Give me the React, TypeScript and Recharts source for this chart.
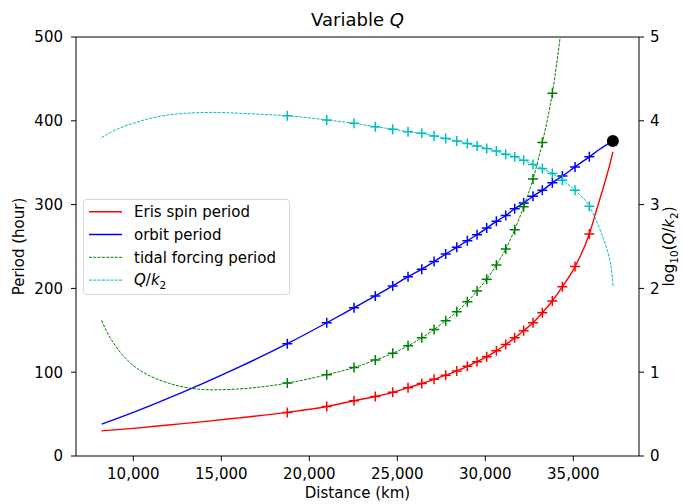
import React from 'react';
import { ComposedChart, Line, Scatter, XAxis, YAxis, ReferenceLine, Legend } from 'recharts';

// Distances (km) where the "+" markers sit
const markerDistance = [18750, 20990, 22540, 23750, 24740, 25610, 26390, 27090, 27750, 28380, 28980, 29530, 30080, 30630, 31160, 31670, 32180, 32710, 33240, 33810, 34380, 35100, 35910];

// Eris spin period (hour) at markers
const spinAtMarkers = [52, 59, 66, 71, 76, 81.5, 86.5, 91.5, 96.5, 101.5, 107, 112.5, 118.5, 125.5, 133, 141, 149.5, 159, 171, 185, 202, 226, 265];
// Orbit period (hour) at markers
const orbitAtMarkers = [134, 159, 177, 191, 203, 214, 223, 232, 241, 249, 257, 264, 272, 280, 287, 295, 302, 310, 317, 326, 334, 345, 357];
// Tidal forcing period (hour) at the first 20 markers
const tidalAtMarkers = [87, 97, 105.5, 114.5, 122.5, 131.5, 141, 151, 161.5, 172, 184, 197, 211, 228, 247, 270, 297.5, 330.5, 374, 433];
// log10(Q/k2) at markers
const logQk2AtMarkers = [4.06, 4.01, 3.97, 3.93, 3.9, 3.87, 3.85, 3.82, 3.79, 3.76, 3.73, 3.7, 3.67, 3.64, 3.6, 3.57, 3.53, 3.48, 3.43, 3.37, 3.29, 3.17, 2.98];

const spinLead = [[8200, 30], [10000, 33], [12000, 37], [14000, 41], [16000, 45.5]];
const spinTail = [[36300, 292], [36700, 320], [37000, 342], [37250, 363]];
const orbitLead = [[8200, 38], [10000, 52], [12000, 69], [14000, 87], [16000, 106]];
const orbitTail = [[36500, 366], [37250, 376]];
const tidalLead = [[8200, 162], [8500, 148], [8900, 134], [9500, 118], [10000, 108], [11000, 95], [12000, 87], [13200, 81], [14500, 79], [16000, 80], [17500, 83]];
const tidalTail = [[34300, 507]];
const qLead = [[8200, 3.8], [8700, 3.86], [9300, 3.92], [10000, 3.97], [11000, 4.03], [12000, 4.07], [13000, 4.09], [14500, 4.1], [16000, 4.09], [17500, 4.075]];
const qTail = [[36200, 2.86], [36500, 2.71], [36800, 2.54], [37000, 2.4], [37150, 2.25], [37270, 2.02]];

// Final orbit position (black dot)
const finalOrbit = [[37250, 376]];

const xTicks = [10000, 15000, 20000, 25000, 30000, 35000];
const leftTicks = [0, 100, 200, 300, 400, 500];
const rightTicks = [0, 1, 2, 3, 4, 5];

type Pt = { d: number; v: number };
const toPts = (arr: number[][]): Pt[] => arr.map(([d, v]) => ({ d, v }));
const markerPts = (vals: number[]): Pt[] => vals.map((v, i) => ({ d: markerDistance[i], v }));
const build = (lead: number[][], vals: number[], tail: number[][]): Pt[] =>
  [...toPts(lead), ...markerPts(vals), ...toPts(tail)].sort((a, b) => a.d - b.d);

const spinData = build(spinLead, spinAtMarkers, spinTail);
const orbitData = build(orbitLead, orbitAtMarkers, orbitTail);
const tidalData = build(tidalLead, tidalAtMarkers, tidalTail);
const qData = build(qLead, logQk2AtMarkers, qTail);

const FONT = 'DejaVu Sans';
const RED = '#ff0000';
const BLUE = '#0000ff';
const GREEN = '#008000';
const CYAN = '#00bfbf';

const plusShape = (color: string) => (props: any) => {
  const { cx, cy } = props;
  if (cx == null || cy == null) return <g />;
  return (
    <path
      d={`M${cx - 5},${cy}H${cx + 5}M${cx},${cy - 5}V${cy + 5}`}
      stroke={color}
      strokeWidth={1.5}
      fill="none"
    />
  );
};

const dotShape = (props: any) => {
  const { cx, cy } = props;
  if (cx == null || cy == null) return <g />;
  return <circle cx={cx} cy={cy} r={6} fill="#000" />;
};

const tickStyle = { fill: '#000', fontSize: 15, fontFamily: FONT };

const LegendBox = () => {
  const rows = [
    { color: RED, dash: undefined as string | undefined, w: 1.4 },
    { color: BLUE, dash: undefined as string | undefined, w: 1.4 },
    { color: GREEN, dash: '3 1.3', w: 1 },
    { color: CYAN, dash: '3 1.3', w: 1 },
  ];
  return (
    <svg width={207} height={96} style={{ display: 'block' }}>
      <rect x={0.5} y={0.5} width={206} height={95} rx={3} ry={3} fill="rgba(255,255,255,0.8)" stroke="#d5d5d5" />
      {rows.map((r, i) => {
        const cy = 12.7 + i * 22.8;
        return (
          <line key={i} x1={6} x2={39} y1={cy} y2={cy} stroke={r.color} strokeWidth={r.w} strokeDasharray={r.dash} />
        );
      })}
      <g fontFamily={FONT} fontSize={15} fill="#000">
        <text x={51} y={12.7 + 5.3}>Eris spin period</text>
        <text x={51} y={35.5 + 5.3}>orbit period</text>
        <text x={51} y={58.3 + 5.3}>tidal forcing period</text>
        <text x={51} y={81.1 + 5.3}>
          <tspan fontStyle="italic">Q</tspan>
          <tspan>/</tspan>
          <tspan fontStyle="italic">k</tspan>
          <tspan fontSize={10.5} dy={3.5}>2</tspan>
        </text>
      </g>
    </svg>
  );
};

export default function App() {
  return (
    <div style={{ position: 'absolute', left: 0, top: 0, width: 682, height: 504, background: '#fff' }}>
      <ComposedChart width={682} height={504} margin={{ top: 37, right: 0, bottom: 0, left: 0 }}>
        <XAxis
          type="number"
          dataKey="d"
          domain={[6744, 38733]}
          allowDataOverflow
          ticks={xTicks}
          interval={0}
          tickFormatter={(v: number) => v.toLocaleString('en-US')}
          height={48}
          tickSize={5}
          tickMargin={7}
          stroke="#000"
          tick={tickStyle}
        />
        <YAxis
          yAxisId="left"
          type="number"
          domain={[0, 500]}
          allowDataOverflow
          ticks={leftTicks}
          interval={0}
          width={76}
          tickSize={5}
          tickMargin={8}
          stroke="#000"
          tick={tickStyle}
        />
        <YAxis
          yAxisId="right"
          orientation="right"
          type="number"
          domain={[0, 5]}
          allowDataOverflow
          ticks={rightTicks}
          interval={0}
          width={43}
          tickSize={5}
          tickMargin={6}
          stroke="#000"
          tick={tickStyle}
        />
        <ReferenceLine yAxisId="left" y={500} stroke="#000" strokeWidth={1} />

        <Line yAxisId="left" data={spinData} dataKey="v" type="monotone" stroke={RED} strokeWidth={1.4} dot={false} activeDot={false} isAnimationActive={false} />
        <Scatter yAxisId="left" data={markerPts(spinAtMarkers)} dataKey="v" shape={plusShape(RED)} isAnimationActive={false} />

        <Line yAxisId="left" data={orbitData} dataKey="v" type="monotone" stroke={BLUE} strokeWidth={1.4} dot={false} activeDot={false} isAnimationActive={false} />
        <Scatter yAxisId="left" data={markerPts(orbitAtMarkers)} dataKey="v" shape={plusShape(BLUE)} isAnimationActive={false} />

        <Line yAxisId="left" data={tidalData} dataKey="v" type="monotone" stroke={GREEN} strokeWidth={1} strokeDasharray="3 1.3" dot={false} activeDot={false} isAnimationActive={false} />
        <Scatter yAxisId="left" data={markerPts(tidalAtMarkers)} dataKey="v" shape={plusShape(GREEN)} isAnimationActive={false} />

        <Scatter yAxisId="left" data={toPts(finalOrbit)} dataKey="v" shape={dotShape} isAnimationActive={false} />

        <Line yAxisId="right" data={qData} dataKey="v" type="monotone" stroke={CYAN} strokeWidth={1} strokeDasharray="3 1.3" dot={false} activeDot={false} isAnimationActive={false} />
        <Scatter yAxisId="right" data={markerPts(logQk2AtMarkers)} dataKey="v" shape={plusShape(CYAN)} isAnimationActive={false} />

        <Legend
          layout="horizontal"
          verticalAlign="middle"
          align="center"
          wrapperStyle={{ left: 83, top: 199, width: 207, height: 96, margin: 0, padding: 0 }}
          content={() => <LegendBox />}
        />
      </ComposedChart>
      <svg width={682} height={504} style={{ position: 'absolute', left: 0, top: 0, pointerEvents: 'none' }}>
        <g fontFamily={FONT} fill="#000">
          <text x={357.5} y={26} textAnchor="middle" fontSize={18}>
            Variable <tspan fontStyle="italic">Q</tspan>
          </text>
          <text x={357.5} y={498} textAnchor="middle" fontSize={15}>Distance (km)</text>
          <text transform="translate(24,246.5) rotate(-90)" textAnchor="middle" fontSize={15}>Period (hour)</text>
          <text transform="translate(674,246.5) rotate(-90)" textAnchor="middle" fontSize={15}>
            <tspan>log</tspan>
            <tspan fontSize={10.5} dy={3.5}>10</tspan>
            <tspan dy={-3.5}>(</tspan>
            <tspan fontStyle="italic">Q</tspan>
            <tspan>/</tspan>
            <tspan fontStyle="italic">k</tspan>
            <tspan fontSize={10.5} dy={3.5}>2</tspan>
            <tspan dy={-3.5}>)</tspan>
          </text>
        </g>
      </svg>
    </div>
  );
}
